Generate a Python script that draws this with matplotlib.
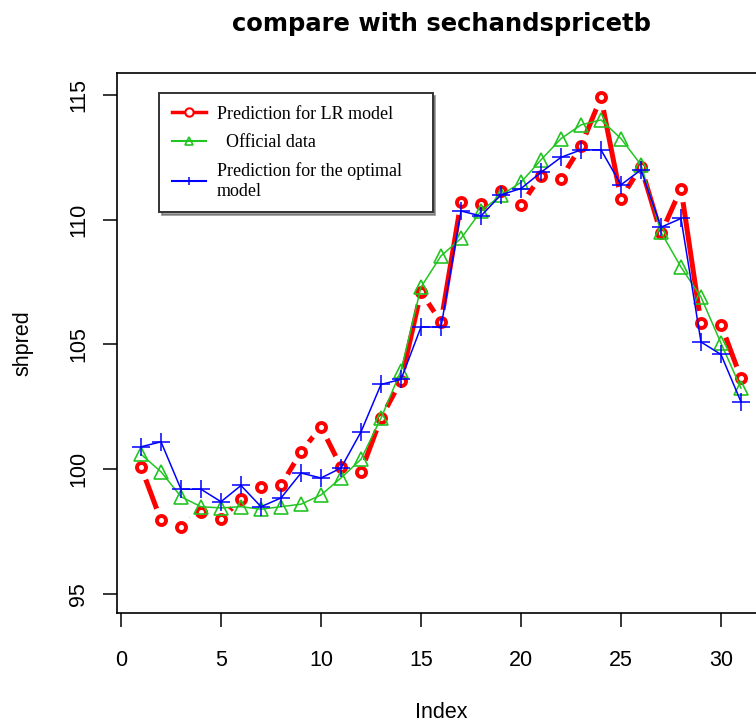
import matplotlib.pyplot as plt

# ===================== DATA =====================
index = list(range(1, 32))

lr_pred = [100.1, 97.95, 97.7, 98.3, 98.0, 98.8, 99.3, 99.35, 100.7, 101.7,
           100.1, 99.9, 102.05, 103.55, 107.1, 105.9, 110.7, 110.65, 111.15, 110.6,
           111.75, 111.65, 112.95, 114.9, 110.85, 112.13, 109.45, 111.25, 105.85, 105.8,
           103.65]

official = [100.6, 99.9, 98.9, 98.5, 98.45, 98.5, 98.4, 98.5, 98.6, 98.97,
            99.65, 100.4, 102.05, 103.95, 107.3, 108.55, 109.25, 110.35, 110.98, 111.5,
            112.4, 113.25, 113.8, 114.0, 113.25, 112.2, 109.5, 108.1, 106.9, 105.05,
            103.25]

optimal_pred = [100.9, 101.1, 99.2, 99.2, 98.7, 99.35, 98.5, 98.85, 99.85, 99.65,
                100.05, 101.5, 103.4, 103.6, 105.7, 105.7, 110.35, 110.15, 111.0, 111.25,
                111.9, 112.5, 112.8, 112.8, 111.4, 112.0, 109.7, 110.05, 105.1, 104.6,
                102.7]

x_ticks = [0, 5, 10, 15, 20, 25, 30]
y_ticks = [95, 100, 105, 110, 115]

RED = "#ff0000"
GREEN = "#22c422"
BLUE = "#0000ff"

# figure layout in pixels (the original is cropped on the right)
W, H = 756, 724
AX_L, AX_T, AX_B, AX_W = 117, 73, 613, 648


def main():
    plt.rcParams["font.family"] = ["Liberation Sans", "DejaVu Sans"]

    fig = plt.figure(figsize=(W / 100, H / 100), dpi=100)
    ax = fig.add_axes([AX_L / W, 1 - AX_B / H, AX_W / W, (AX_B - AX_T) / H])

    # ---- LR model: thick line broken around open circles (R type="b")
    ax.plot(index, lr_pred, color=RED, lw=3.6, solid_capstyle="butt", zorder=2)
    ax.plot(index, lr_pred, linestyle="none", marker="o", markersize=18.5,
            markerfacecolor="white", markeredgecolor="none", zorder=2.1)
    ax.plot(index, lr_pred, color=RED, linestyle="none",
            marker="o", markersize=6.5, markeredgewidth=2.8,
            markerfacecolor="white", markeredgecolor=RED,
            label="Prediction for LR model      ", zorder=2.2)

    # ---- official data
    ax.plot(index, official, color=GREEN, lw=1.1,
            marker="^", markersize=10.5, markerfacecolor="none",
            markeredgewidth=1.2, label="  Official data", zorder=3)
    # ---- optimal model
    ax.plot(index, optimal_pred, color=BLUE, lw=1.1,
            marker="+", markersize=12.5, markeredgewidth=1.1,
            label="Prediction for the optimal\nmodel", zorder=4)

    ax.set_xlim(-0.2, 32.2)
    ax.set_ylim(94.24, 115.88)
    ax.set_xticks(x_ticks)
    ax.set_yticks(y_ticks)
    ax.tick_params(axis="both", labelsize=15.5, length=10, width=1.1)
    ax.tick_params(axis="x", pad=17)
    ax.tick_params(axis="y", labelrotation=90, pad=10)
    for lbl in ax.get_yticklabels():
        lbl.set_va("center")
    for s in ax.spines.values():
        s.set_linewidth(1.2)

    ax.set_title("compare with sechandspricetb", fontsize=17.5, fontweight="bold",
                 family="DejaVu Sans", pad=30)
    ax.set_xlabel("Index", fontsize=15.5, va="center")
    ax.xaxis.set_label_coords(0.5, (AX_B - 713) / (AX_B - AX_T))
    ax.set_ylabel("shpred", fontsize=15.5, va="center")
    ax.yaxis.set_label_coords((23 - AX_L) / AX_W, 0.5)

    leg = ax.legend(loc="upper left", bbox_to_anchor=(159 / W, 1 - 93 / H),
                    bbox_transform=fig.transFigure, borderaxespad=0,
                    prop={"family": "Liberation Serif", "size": 13},
                    fancybox=False, shadow=True, framealpha=1,
                    handlelength=1.9, handletextpad=0.6, labelspacing=0.62,
                    borderpad=0.7)
    leg.get_frame().set_edgecolor("#333333")
    leg.get_frame().set_linewidth(1.4)
    # legend handles: solid lines with small markers
    for h in leg.legend_handles:
        h.set_markersize(6)
        h.set_linestyle("-")
        h.set_linewidth(1.5)
    leg.legend_handles[0].set_linewidth(2.5)
    leg.legend_handles[0].set_markeredgewidth(1.5)

    fig.savefig("out.png", dpi=100)


if __name__ == "__main__":
    main()
